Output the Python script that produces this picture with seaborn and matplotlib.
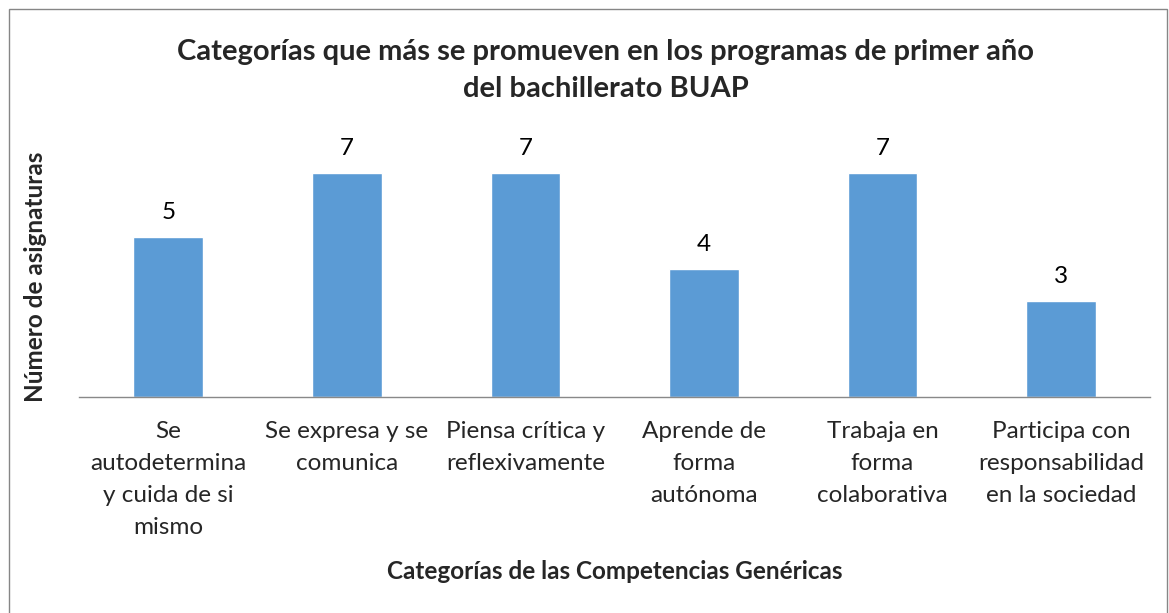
import matplotlib
matplotlib.use("Agg")
import matplotlib.pyplot as plt
import seaborn as sns
import pandas as pd

categorias = [
    "Se\nautodetermina\ny cuida de si\nmismo",
    "Se expresa y se\ncomunica",
    "Piensa crítica y\nreflexivamente",
    "Aprende de\nforma\nautónoma",
    "Trabaja en\nforma\ncolaborativa",
    "Participa con\nresponsabilidad\nen la sociedad",
]
asignaturas = [5, 7, 7, 4, 7, 3]

df = pd.DataFrame({"categoria": categorias, "asignaturas": asignaturas})

sns.set_theme(style="white")
plt.rcParams["font.family"] = ["Lato", "DejaVu Sans"]

fig = plt.figure(figsize=(11.69, 6.13), dpi=100)
ax = fig.add_axes([0.0676, 0.3524, 0.9164, 0.4176])

sns.barplot(data=df, x="categoria", y="asignaturas", color="#5B9BD5",
            width=0.39, saturation=1, ax=ax)

for i, v in enumerate(asignaturas):
    ax.text(i, v + 0.45, str(v), ha="center", va="bottom", fontsize=17.5, color="#000000")

ax.set_ylim(0, 8)
ax.set_xlim(-0.5, 5.5)
ax.set_yticks([])
ax.set_xticks(range(len(categorias)))
ax.set_xticklabels(categorias, linespacing=1.66)
for s in ["top", "right", "left"]:
    ax.spines[s].set_visible(False)
ax.spines["bottom"].set_color("#898989")
ax.spines["bottom"].set_linewidth(1)
ax.tick_params(axis="x", length=0, pad=17, labelsize=17.5)

ax.set_xlabel("Categorías de las Competencias Genéricas", fontsize=17.5,
              fontweight="bold")
ax.xaxis.set_label_coords(0.5, -0.636)
ax.set_ylabel("Número de asignaturas", fontsize=17.5, fontweight="bold")
ax.yaxis.set_label_coords(-0.030, 0.47)

fig.text(0.518, 0.885, "Categorías que más se promueven en los programas de primer año\ndel bachillerato BUAP",
         ha="center", va="center", fontsize=21, fontweight="bold", linespacing=1.5)

border = plt.Rectangle((0.008, -0.01), 0.99, 0.995, transform=fig.transFigure,
                       fill=False, edgecolor="#868686", linewidth=1)
fig.patches.append(border)

fig.savefig("out.png", dpi=100)
